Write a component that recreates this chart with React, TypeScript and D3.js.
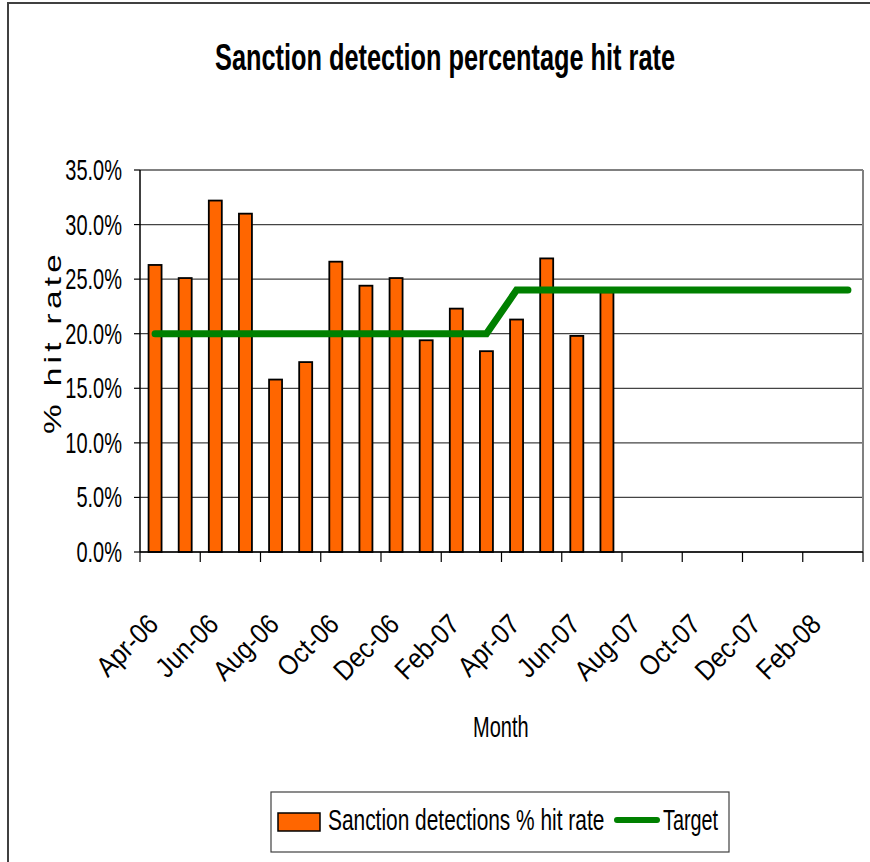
import React from "react";
import * as d3 from "d3";

const months = [
  "Apr-06", "May-06", "Jun-06", "Jul-06", "Aug-06", "Sep-06", "Oct-06", "Nov-06",
  "Dec-06", "Jan-07", "Feb-07", "Mar-07", "Apr-07", "May-07", "Jun-07", "Jul-07",
  "Aug-07", "Sep-07", "Oct-07", "Nov-07", "Dec-07", "Jan-08", "Feb-08", "Mar-08",
];
const hitRate = [26.3, 25.1, 32.2, 31.0, 15.8, 17.4, 26.6, 24.4, 25.1, 19.4, 22.3, 18.4, 21.3, 26.9, 19.8, 23.8];
const target = [20, 20, 20, 20, 20, 20, 20, 20, 20, 20, 20, 20, 24, 24, 24, 24, 24, 24, 24, 24, 24, 24, 24, 24];
const yTicks = [0, 5, 10, 15, 20, 25, 30, 35];
const xLabelMonths = ["Apr-06", "Jun-06", "Aug-06", "Oct-06", "Dec-06", "Feb-07", "Apr-07", "Jun-07", "Aug-07", "Oct-07", "Dec-07", "Feb-08"];

const title = "Sanction detection percentage hit rate";
const yTitle = "% hit rate";
const xTitle = "Month";
const barLegend = "Sanction detections % hit rate";
const lineLegend = "Target";

const FONT = "'Liberation Sans', Arial, sans-serif";
const SY = 1.45;

export default function App() {
  const left = 140, right = 863, top = 170, bottom = 552;
  const x = d3.scaleBand<string>().domain(months).range([left, right]).padding(0);
  const y = d3.scaleLinear().domain([0, 35]).range([bottom, top]);
  const bw = x.bandwidth();
  const barW = 13;
  const line = d3.line<number>()
    .x((_, i) => (x(months[i]) as number) + bw / 2)
    .y((d) => y(d));
  const boundaries = d3.range(0, months.length + 1, 2).map((i) => left + i * bw);

  return (
    <svg width={870} height={862} style={{ position: "absolute", left: 0, top: 0, background: "#fff" }} fontFamily={FONT}>
      <rect x={8} y={3} width={900} height={900} fill="#fff" stroke="#404040" strokeWidth={2} />
      {/* title */}
      <text transform={`translate(215,70) scale(1,${SY})`} fontSize={25.4} fontWeight="bold" textLength={460} lengthAdjust="spacingAndGlyphs">{title}</text>

      {/* gridlines */}
      {yTicks.map((t) => (
        <line key={"g" + t} x1={left} x2={right} y1={y(t)} y2={y(t)} stroke={t === 35 ? "#808080" : "#444"} strokeWidth={t === 35 ? 2 : 1.2} />
      ))}
      <line x1={right} x2={right} y1={top} y2={bottom} stroke="#808080" strokeWidth={2} />

      {/* bars */}
      {hitRate.map((v, i) => (
        <rect key={"b" + i} x={(x(months[i]) as number) + (bw - barW) / 2} y={y(v)} width={barW} height={bottom - y(v)} fill="#FF6600" stroke="#000" strokeWidth={1.8} />
      ))}

      {/* axes */}
      <line x1={left} x2={left} y1={top} y2={bottom} stroke="#000" strokeWidth={1.5} />
      <line x1={left} x2={right} y1={bottom} y2={bottom} stroke="#000" strokeWidth={1.5} />
      {yTicks.map((t) => (
        <g key={"yt" + t}>
          <line x1={134} x2={left} y1={y(t)} y2={y(t)} stroke="#000" strokeWidth={1.2} />
          <text transform={`translate(122,${y(t) + 10}) scale(1,${SY})`} fontSize={20} textAnchor="end">{t.toFixed(1) + "%"}</text>
        </g>
      ))}
      {boundaries.map((bx, i) => (
        <line key={"xt" + i} x1={bx} x2={bx} y1={bottom} y2={bottom + 10} stroke="#000" strokeWidth={1.2} />
      ))}
      {xLabelMonths.map((m) => {
        const cx = (x(m) as number) + bw / 2 + 5;
        return (
          <text key={"xl" + m} transform={`translate(${cx},626) rotate(-45) scale(0.88,1)`} fontSize={28} textAnchor="end">{m}</text>
        );
      })}

      {/* target line */}
      <path d={line(target) as string} fill="none" stroke="#008000" strokeWidth={7} strokeLinecap="round" strokeLinejoin="miter" />

      {/* axis titles */}
      <text transform={`translate(61,344) rotate(-90) scale(${SY},1)`} fontSize={23} textAnchor="middle" textLength={124} lengthAdjust="spacing">{yTitle}</text>
      <text transform={`translate(473,737) scale(1,${SY})`} fontSize={20}>{xTitle}</text>

      {/* legend */}
      <rect x={271} y={792} width={458} height={60} fill="#fff" stroke="#404040" strokeWidth={1.2} />
      <rect x={278} y={813} width={42} height={18} fill="#FF6600" stroke="#000" strokeWidth={1.5} />
      <text transform={`translate(328,830) scale(1,${SY})`} fontSize={20.9}>{barLegend}</text>
      <line x1={617} x2={657} y1={820} y2={820} stroke="#008000" strokeWidth={6} strokeLinecap="round" />
      <text transform={`translate(663,830) scale(1,${SY})`} fontSize={19.8}>{lineLegend}</text>
    </svg>
  );
}
